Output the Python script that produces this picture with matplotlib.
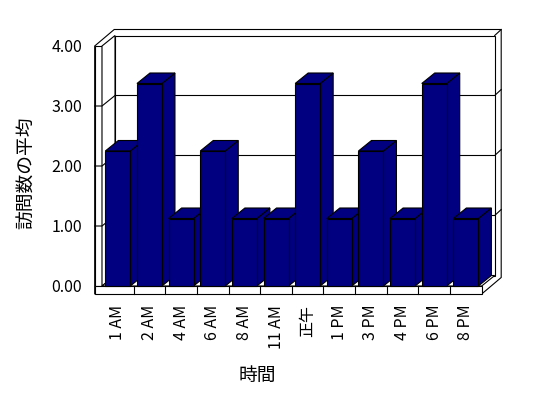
import matplotlib
matplotlib.use('Agg')
import matplotlib.pyplot as plt
from matplotlib.patches import Polygon

plt.rcParams['font.family'] = ['Noto Sans CJK JP', 'DejaVu Sans']

# data
hours = ['1 AM', '2 AM', '4 AM', '6 AM', '8 AM', '11 AM', '正午',
         '1 PM', '3 PM', '4 PM', '6 PM', '8 PM']
avg_visits = [2.25, 3.375, 1.125, 2.25, 1.125, 1.125, 3.375,
              1.125, 2.25, 1.125, 3.375, 1.125]
y_ticks = [0, 1, 2, 3, 4]
y_ticklabels = ['0.00', '1.00', '2.00', '3.00', '4.00']

fig = plt.figure(figsize=(5.48, 3.98), dpi=100)
ax = fig.add_axes([102 / 548, 112 / 398, 379.7 / 548, 240 / 398])
ax.set_xlim(-0.5, len(hours) - 0.5)
ax.set_ylim(0, 4)
ax.patch.set_visible(False)
for s in ax.spines.values():
    s.set_visible(False)

# oblique depth offsets (data units)
sx = 379.7 / 12   # px per category
sy = 60.0         # px per unit
dx, dy = 13 / sx, 10.5 / sy        # depth of plot box
tx, ty = 6.5 / sx, 6 / sy          # back wall thickness
lw_ = 7.3 / sx                     # left wall thickness
fl = 8 / sy                        # floor thickness
xl, xr = -0.5, len(hours) - 0.5
top = 4

lw = 0.8
kw = dict(facecolor='white', edgecolor='black', lw=lw, clip_on=False)

# outer silhouette
ax.add_patch(Polygon([(xl - lw_, -fl), (xl - lw_, top),
                      (xl - lw_ + dx + tx, top + dy + ty),
                      (xr + dx + tx, top + dy + ty),
                      (xr + dx + tx, -fl + dy + ty),
                      (xr, -fl)], zorder=1, **kw))
# back wall inner face
ax.add_patch(Polygon([(xl + dx, dy), (xr + dx, dy), (xr + dx, top + dy),
                      (xl + dx, top + dy)], zorder=1.1, **kw))
ax.plot([xr + dx, xr + dx + tx], [top + dy, top + dy + ty], color='black',
        lw=lw, clip_on=False, zorder=1.1)
# left wall front face and inner face
ax.add_patch(Polygon([(xl - lw_, 0), (xl, 0), (xl, top), (xl - lw_, top)],
                     zorder=1.2, **kw))
ax.add_patch(Polygon([(xl, 0), (xl + dx, dy), (xl + dx, top + dy), (xl, top)],
                     zorder=1.2, **kw))
# floor top and front
ax.add_patch(Polygon([(xl, 0), (xr, 0), (xr + dx, dy), (xl + dx, dy)],
                     zorder=1.2, **kw))
ax.add_patch(Polygon([(xl - lw_, -fl), (xr, -fl), (xr, 0), (xl - lw_, 0)],
                     zorder=1.2, **kw))
for k in range(1, len(hours)):
    ax.plot([xl + k, xl + k], [-fl, 0], color='black', lw=lw,
            clip_on=False, zorder=1.3)

# gridlines
for v in y_ticks[1:-1]:
    ax.plot([xl - lw_, xl, xl + dx, xr + dx, xr + dx + tx],
            [v, v, v + dy, v + dy, v + dy + ty],
            color='black', lw=lw, clip_on=False, zorder=1.4)

# bars
navy = '#000080'
w = 25 / sx
bars = ax.bar(range(len(hours)), avg_visits, width=w, color=navy,
              edgecolor='black', lw=lw, clip_on=False)
for i, (b, v) in enumerate(zip(bars, avg_visits)):
    z = 3 + i * 0.01
    x0, x1 = i - w / 2, i + w / 2
    side = Polygon([(x1, 0), (x1 + dx, dy), (x1 + dx, v + dy), (x1, v)],
                   facecolor=navy, edgecolor='black', lw=lw, zorder=z,
                   clip_on=False)
    topf = Polygon([(x0, v), (x1, v), (x1 + dx, v + dy), (x0 + dx, v + dy)],
                   facecolor=navy, edgecolor='black', lw=lw, zorder=z,
                   clip_on=False)
    ax.add_patch(side)
    ax.add_patch(topf)
    b.set_zorder(z + 0.005)

# ticks and labels
ax.set_xticks(range(len(hours)), hours, rotation=90, fontsize=11.5)
ax.set_yticks(y_ticks, y_ticklabels, fontsize=11.5)
ax.tick_params(axis='x', length=0, pad=13.5)
ax.tick_params(axis='y', length=0, pad=14.4)

ax.set_xlabel('時間', fontsize=13.5)
ax.xaxis.set_label_coords((257 - 102) / 379.7, (286 - 375) / 240)
ax.xaxis.label.set_va('center')
ax.set_ylabel('訪問数の平均', fontsize=13.5)
ax.yaxis.set_label_coords((26.7 - 102) / 379.7, (286 - 173) / 240)
ax.yaxis.label.set_va('center')

fig.savefig('out.png', dpi=100)
